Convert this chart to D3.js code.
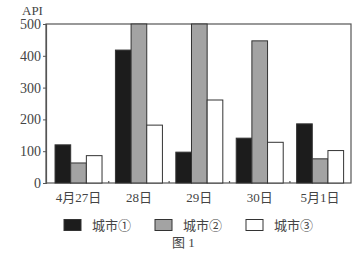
<!DOCTYPE html>
<html><head><meta charset="utf-8">
<script src="https://cdn.jsdelivr.net/npm/d3@7"></script>
<style>body{margin:0;background:#fff}svg{display:block}</style>
</head><body><svg id="c" width="355" height="256"></svg>
<script>
const categories = ["4月27日","28日","29日","30日","5月1日"];
const seriesNames = ["城市①","城市②","城市③"];
const city1 = [120, 418, 97, 141, 186];
const city2 = [63, 500, 500, 447, 76];
const city3 = [86, 182, 261, 128, 102];
const yTicks = [0,100,200,300,400,500];
const colors = ["#1c1c1c","#a3a3a3","#ffffff"];

const svg = d3.select("#c");
const L=46, R=351, T=24, B=183;
const font = "'Liberation Serif','Noto Sans CJK SC',serif";
const series = [city1, city2, city3];

const y = d3.scaleLinear().domain([0,500]).range([B,T]);
const x0 = d3.scaleBand().domain(categories).range([L,R]).paddingInner(0.222).paddingOuter(0.136).align(0.55);
const x1 = d3.scaleBand().domain(d3.range(3)).range([0,x0.bandwidth()]);

// frame
svg.append("rect").attr("x",L).attr("y",T).attr("width",R-L).attr("height",B-T)
  .attr("fill","none").attr("stroke","#555").attr("stroke-width",1.2);

// bars
categories.forEach((c,i)=>{
  series.forEach((s,j)=>{
    svg.append("rect")
      .attr("x", x0(c)+x1(j)).attr("y", y(s[i]))
      .attr("width", x1.bandwidth()).attr("height", B-y(s[i]))
      .attr("fill", colors[j]).attr("stroke","#333").attr("stroke-width",1);
  });
});

// y axis
const yAxis = d3.axisLeft(y).tickValues(yTicks).tickSize(3).tickPadding(2);
const gy = svg.append("g").attr("transform",`translate(${L},0)`).call(yAxis);
gy.select(".domain").attr("stroke","#555").attr("stroke-width",1.2);
gy.selectAll(".tick line").attr("stroke","#555");
gy.selectAll("text").attr("font-family",font).attr("font-size",14).attr("fill","#444");

// x axis labels
const gx = svg.append("g").attr("transform",`translate(0,${B})`)
  .call(d3.axisBottom(x0).tickSize(0).tickPadding(10));
gx.select(".domain").remove();
gx.selectAll("text").attr("font-family",font).attr("font-size",13).attr("fill","#444");

// small separator ticks
categories.slice(1).forEach(c=>{
  const xs = x0(c) - x0.step()*x0.paddingInner()/2 ;
  svg.append("line").attr("x1",xs).attr("x2",xs).attr("y1",B).attr("y2",B-2)
    .attr("stroke","#555").attr("stroke-width",1.2);
});

// API label
svg.append("text").attr("x",22).attr("y",15).text("API")
  .attr("font-family",font).attr("font-size",13).attr("fill","#444");

// legend
const legX = [64,155,246];
seriesNames.forEach((n,j)=>{
  svg.append("rect").attr("x",legX[j]).attr("y",219.5).attr("width",17).attr("height",11)
    .attr("fill",colors[j]).attr("stroke","#333").attr("stroke-width",1);
  svg.append("text").attr("x",legX[j]+28).attr("y",230).text(n)
    .attr("font-family",font).attr("font-size",13).attr("fill","#444");
});
svg.append("text").attr("x",172).attr("y",247).text("图 1")
  .attr("font-family",font).attr("font-size",13).attr("fill","#444");
</script></body></html>
